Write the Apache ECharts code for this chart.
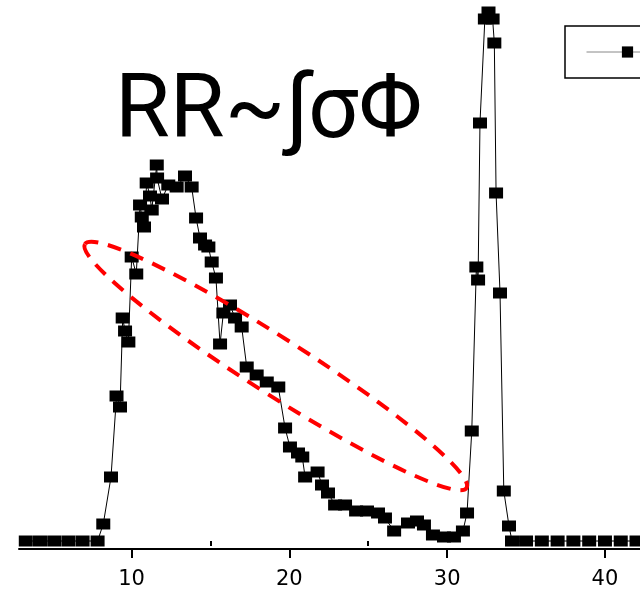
<!DOCTYPE html>
<html>
<head>
<meta charset="utf-8">
<script src="https://cdn.jsdelivr.net/npm/echarts@6/dist/echarts.min.js"></script>
<style>html,body{margin:0;padding:0;background:#fff}#c{width:640px;height:591px}</style>
</head>
<body>
<div id="c"></div>
<script>
// x positions (axis units) and intensities (a.u.)
var xValues = [3.3,4.2,5.1,6.0,6.9,7.85,8.21,8.70,9.05,9.27,9.44,9.59,9.80,10.01,10.30,10.54,10.65,10.79,10.96,11.17,11.28,11.60,11.62,11.93,12.33,12.86,13.39,13.81,14.09,14.34,14.66,14.87,15.08,15.35,15.61,15.82,16.24,16.56,16.98,17.30,17.93,18.57,19.30,19.73,20.04,20.55,20.82,21.0,21.79,22.07,22.45,22.90,23.53,24.23,24.92,25.62,26.06,26.64,27.52,28.09,28.53,29.10,29.80,30.43,31.00,31.26,31.56,31.85,31.96,32.08,32.39,32.62,32.88,32.99,33.10,33.35,33.59,33.92,34.11,35,36,37,38,39,40,41,42];
var yValues = [0,0,0,0,0,0,17,64,145,134,223,210,199,284,267,336,324,314,358,345,331,376,363,342,356,354,365,354,323,303,296,294,279,263,197,228,236,223,214,174,166,159,154,113,94,88,84,64,69,56,48,36,36,30,30,28,23,10,18,20,16,6,4,4,10,28,110,274,261,418,522,529,522,498,348,248,50,15,0,0,0,0,0,0,0,0,0];
var majorTicks = [10,20,30,40];
var minorTicks = [5,15,25,35];
var seriesName = 'Intensity';
var titleText = 'RR~\u222B\u03C3\u03A6';
// ellipse annotation ends in data units
var ellipseEndA = [7.05, 297];
var ellipseEndB = [31.23, 53];

var xMin = 2.87, xMax = 42.22;
var data = xValues.map(function(x,i){return [x, yValues[i]];});

var chart = echarts.init(document.getElementById('c'), null, {renderer:'canvas'});
chart.setOption({
  animation:false,
  backgroundColor:'#fff',
  title:{text:titleText,left:115,top:70,padding:0,textStyle:{fontFamily:'Roboto',fontWeight:'normal',fontSize:89,color:'#000'}},
  legend:{left:565,top:26,padding:[16,20,16,21],itemWidth:82,itemHeight:14,borderColor:'#000',borderWidth:1.5,
    lineStyle:{color:'#888',width:1},
    textStyle:{fontFamily:'Liberation Sans',fontSize:20,color:'#000'},data:[seriesName]},
  grid:{left:19,right:0,top:0,bottom:42,containLabel:false},
  xAxis:[{type:'value',min:xMin,max:xMax,
    axisLine:{show:true,onZero:false,lineStyle:{color:'#000',width:2}},
    axisTick:{show:true,inside:false,length:9,customValues:majorTicks,lineStyle:{color:'#000',width:2}},
    axisLabel:{show:true,customValues:majorTicks,margin:20,fontFamily:'DejaVu Sans',fontSize:21,color:'#000'},
    splitLine:{show:false}},
   {type:'value',min:xMin,max:xMax,position:'bottom',
    axisLine:{show:false},
    axisTick:{show:true,inside:false,length:5,customValues:minorTicks,lineStyle:{color:'#000',width:2}},
    axisLabel:{show:false},splitLine:{show:false}}],
  yAxis:{type:'value',min:-8,max:541,show:false},
  series:[{name:seriesName,type:'line',data:data,symbol:'rect',symbolSize:[14,11],
    itemStyle:{color:'#000'},lineStyle:{color:'#000',width:1},clip:false}]
});

var pA = chart.convertToPixel({xAxisIndex:0,yAxisIndex:0}, ellipseEndA);
var pB = chart.convertToPixel({xAxisIndex:0,yAxisIndex:0}, ellipseEndB);
var cx = (pA[0]+pB[0])/2, cy = (pA[1]+pB[1])/2;
var dx = pB[0]-pA[0], dy = pB[1]-pA[1];
var rx = Math.sqrt(dx*dx+dy*dy)/2;
chart.setOption({graphic:[{type:'ellipse',x:cx,y:cy,rotation:-Math.atan2(dy,dx),
  shape:{cx:0,cy:0,rx:rx,ry:28},
  style:{fill:null,stroke:'#ff0000',lineWidth:4,lineDash:[14,10]},z:10}]});
</script>
</body>
</html>
